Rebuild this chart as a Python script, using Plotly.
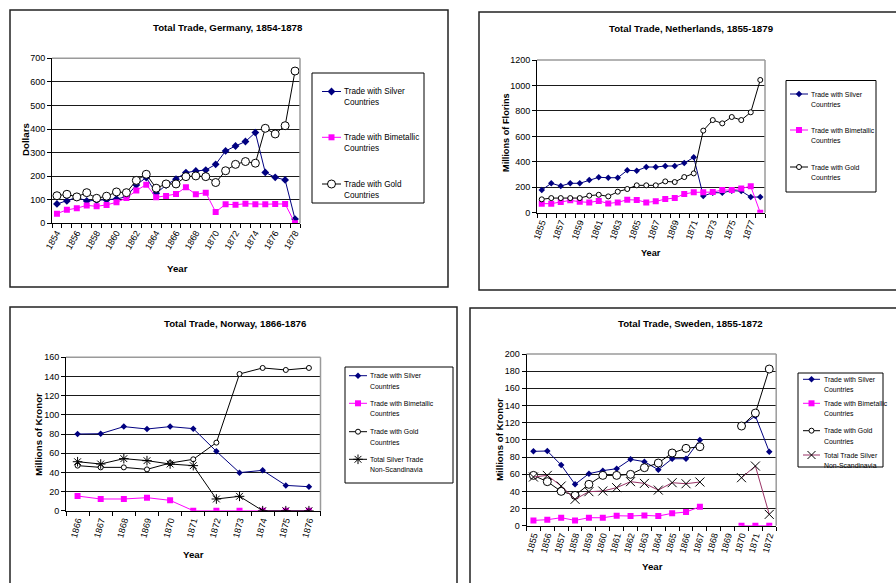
import plotly.graph_objects as go

W, H = 896, 583
FONT = "Liberation Sans Narrow, Liberation Sans, Arial, sans-serif"

# ---------------- Data ----------------
ger_years = list(range(1854, 1879))
ger_silver = [82, 95, 110, 95, 97, 99, 103, 113, 163, 194, 127, 162, 187, 215, 222, 226, 250, 307, 328, 347, 385, 216, 195, 184, 18]
ger_bimet = [41, 57, 64, 76, 72, 78, 89, 107, 139, 164, 110, 116, 124, 153, 123, 130, 48, 81, 79, 83, 81, 81, 82, 82, 0]
ger_gold = [117, 123, 112, 130, 106, 115, 133, 130, 182, 208, 149, 167, 167, 198, 201, 198, 173, 223, 250, 262, 255, 403, 379, 414, 646]
ger_ticks = list(range(1854, 1879, 2))

ned_years = list(range(1855, 1879))
ned_silver = [178, 231, 210, 231, 231, 257, 278, 275, 275, 333, 330, 359, 359, 367, 367, 390, 435, 131, 157, 157, 173, 170, 123, 123]
ned_bimet = [71, 71, 84, 97, 86, 81, 92, 73, 81, 102, 100, 81, 89, 107, 115, 147, 160, 160, 162, 178, 178, 191, 207, 0]
ned_gold = [105, 115, 115, 115, 115, 134, 141, 128, 165, 186, 215, 215, 215, 246, 241, 280, 309, 645, 728, 702, 752, 728, 789, 1043]
ned_ticks = list(range(1855, 1879, 2))

nor_years = list(range(1866, 1877))
nor_silver = [80, 80.3, 87.7, 85.2, 87.7, 85.6, 61.9, 39.7, 42.1, 26.4, 25]
nor_bimet = [15.3, 12.2, 12.2, 13.6, 10.8, 0, 0, 0, 0, 0, 0]
nor_gold = [47, 45.2, 45.2, 43.1, 49.7, 53.6, 71, 142.6, 148.9, 146.8, 148.9]
nor_nonscan = [51.1, 48.7, 54.3, 52.2, 48.7, 47, 12.2, 15, 0, 0, 0]

swe_years = list(range(1855, 1873))
swe_silver = [86.6, 87, 70.7, 48.2, 60.6, 64.1, 66.4, 77.3, 74.6, 65.2, 78, 78, 99.8, None, None, 116.5, 127.8, 86.2]
swe_bimet = [6.2, 7, 9.3, 6.2, 9.3, 9.3, 11.6, 11.3, 12, 11.3, 14.4, 15.9, 22.1, None, None, 0, 0, 0]
swe_gold = [58.6, 51.3, 40, 35.3, 48.2, 58.6, 58.6, 59.8, 67.6, 73, 84.7, 90.1, 92, None, None, 116.1, 131.2, 182.5]
swe_nonscan = [56.7, 58.6, 46.2, 30.7, 39.6, 40.4, 44.3, 51.3, 49.3, 41.5, 50.1, 48.9, 50.9, None, None, 55.9, 69.5, 13.2]

L_S = ["Trade with Silver", "Countries"]
L_B = ["Trade with Bimetallic", "Countries"]
L_G = ["Trade with Gold", "Countries"]
L_N_NOR = ["Total Silver Trade", "Non-Scandinavia"]
L_N_SWE = ["Total Trade Silver", "Non-Scandinavia"]

NAVY = "#000080"
MAG = "#FF00FF"
PLUM = "#993366"


def style(kind, msize=None):
    if kind == "silver":
        return dict(color=NAVY, width=1), dict(symbol="diamond", size=msize or 6, color=NAVY, line=dict(width=0))
    if kind == "bimet":
        return dict(color=MAG, width=1), dict(symbol="square", size=msize or 6, color=MAG, line=dict(width=0))
    if kind == "gold":
        return dict(color="black", width=1), dict(symbol="circle", size=msize or 8, color="white", line=dict(color="black", width=1))
    if kind == "star":
        return dict(color="black", width=1), dict(symbol="asterisk-open", size=msize or 8, color="black", line=dict(color="black", width=1))
    return dict(color=PLUM, width=1), dict(symbol="x-thin-open", size=msize or 9, color="black", line=dict(color="black", width=1))


fig = go.Figure()


def add(xs, ys, ax, kind, msize=None):
    sx = "" if ax == 1 else str(ax)
    line, marker = style(kind, msize)
    fig.add_trace(go.Scatter(x=xs, y=ys, mode="lines+markers", line=line, marker=marker,
                             xaxis=f"x{sx}", yaxis=f"y{sx}", showlegend=False,
                             connectgaps=False, hoverinfo="skip"))


add(ger_years, ger_silver, 1, "silver")
add(ger_years, ger_bimet, 1, "bimet")
add(ger_years, ger_gold, 1, "gold", 8)

add(ned_years, ned_silver, 2, "silver", 5)
add(ned_years, ned_bimet, 2, "bimet", 6)
add(ned_years, ned_gold, 2, "gold", 5)

add(nor_years, nor_silver, 3, "silver", 5)
add(nor_years, nor_bimet, 3, "bimet", 6)
add(nor_years, nor_gold, 3, "gold", 5)
add(nor_years, nor_nonscan, 3, "star", 8)

add(swe_years, swe_silver, 4, "silver", 5)
add(swe_years, swe_bimet, 4, "bimet", 6)
add(swe_years, swe_gold, 4, "gold", 8)
add(swe_years, swe_nonscan, 4, "x", 9)

# ---------------- Axes ----------------
panels = {
    1: (52, 300, 58.3, 223.3, [1853.5, 1878.5], [0, 700], 100, ger_ticks, -60),
    2: (537, 765, 60, 212.7, [1854.5, 1878.5], [0, 1200], 200, ned_ticks, -70),
    3: (66, 320.5, 357.3, 510.7, [1865.5, 1876.5], [0, 160], 20, nor_years, -75),
    4: (526.5, 776.2, 354, 525.7, [1854.5, 1872.5], [0, 200], 20, swe_years, -75),
}

layout = dict(
    width=W, height=H, margin=dict(l=0, r=0, t=0, b=0, autoexpand=False),
    paper_bgcolor="white", plot_bgcolor="rgba(0,0,0,0)",
    font=dict(family=FONT, size=9, color="black"),
    showlegend=False, shapes=[], annotations=[],
)

for ax, (x0, x1, yt, yb, xr, yr, dty, tv, ang) in panels.items():
    sx = "" if ax == 1 else str(ax)
    layout[f"xaxis{sx}"] = dict(
        domain=[x0 / W, x1 / W], range=xr, anchor=f"y{sx}",
        tickmode="array", tickvals=tv, ticktext=[str(v) for v in tv],
        tickangle=ang, ticks="", showgrid=False, zeroline=False,
        showline=True, linecolor="black", linewidth=1, fixedrange=True,
        tickfont=dict(size=9, family=FONT, color="black"),
        minor=dict(tickmode="linear", tick0=xr[0], dtick=1, ticks="outside",
                   ticklen=4, tickcolor="black", showgrid=False),
    )
    layout[f"yaxis{sx}"] = dict(
        domain=[1 - yb / H, 1 - yt / H], range=yr, anchor=f"x{sx}",
        dtick=dty, tick0=0, ticks="outside", ticklen=4, tickcolor="black",
        showgrid=True, gridcolor="#1a1a1a", gridwidth=1, zeroline=False,
        showline=True, linecolor="black", linewidth=1, fixedrange=True,
        tickfont=dict(size=9, family=FONT, color="black"),
    )
    layout["shapes"].append(dict(type="line", xref=f"x{sx} domain", yref=f"y{sx} domain",
                                 x0=1, x1=1, y0=0, y1=1, line=dict(color="#9a9a9a", width=1.5)))
    layout["shapes"].append(dict(type="line", xref=f"x{sx} domain", yref=f"y{sx} domain",
                                 x0=0, x1=1, y0=1, y1=1, line=dict(color="#9a9a9a", width=1.5)))

# overlay pixel-space axis for frames and legends
layout["xaxis5"] = dict(domain=[0, 1], range=[0, W], anchor="y5", visible=False, fixedrange=True)
layout["yaxis5"] = dict(domain=[0, 1], range=[H, 0], anchor="x5", visible=False, fixedrange=True)

frames = [(10, 10, 448, 287), (479, 12, 900, 290), (10, 307, 457, 590), (470, 308, 900, 590)]
for (fx0, fy0, fx1, fy1) in frames:
    layout["shapes"].append(dict(type="rect", xref="x5", yref="y5", x0=fx0, x1=fx1, y0=fy0, y1=fy1,
                                 line=dict(color="#222", width=1.5), layer="below"))


def ann(text, x, y, size=9.7, bold=True, angle=0, xanchor="center"):
    layout["annotations"].append(dict(
        text=f"<b>{text}</b>" if bold else text, x=x, y=y, xref="x5", yref="y5",
        showarrow=False, xanchor=xanchor, yanchor="middle", textangle=angle,
        font=dict(family=FONT, size=size, color="black")))


ann("Total Trade, Germany, 1854-1878", 228, 27)
ann("Total Trade, Netherlands, 1855-1879", 691, 28)
ann("Total Trade, Norway, 1866-1876", 235, 323)
ann("Total Trade, Sweden, 1855-1872", 690, 323)

ann("Dollars", 25, 140, 9.7, True, -90)
ann("Year", 177, 268, 9.7)
ann("Millions of Florins", 506, 133, 9.2, True, -90)
ann("Year", 651, 253, 9.2)
ann("Millions of Kronor", 38, 435, 9.7, True, -90)
ann("Year", 193, 554, 9.7)
ann("Millions of Kronor", 499, 440, 9.7, True, -90)
ann("Year", 652, 566, 9.7)

# manual legends
legends = [
    ((312, 73, 424, 203), 322, 341, 342, 8.2, 11,
     [(91.5, "silver", 6, L_S), (137.3, "bimet", 6, L_B), (184, "gold", 8, L_G)]),
    ((786, 80.5, 876, 192), 790, 808, 809, 6.9, 10.5,
     [(94, "silver", 5, L_S), (130, "bimet", 6, L_B), (167, "gold", 5, L_G)]),
    ((345, 367, 453, 483), 349, 367, 368, 6.9, 10.5,
     [(375.7, "silver", 5, L_S), (403.3, "bimet", 6, L_B), (431.7, "gold", 5, L_G), (459.3, "star", 8, L_N_NOR)]),
    ((798, 373, 883, 467), 803, 820, 821.5, 6.9, 10.5,
     [(379.3, "silver", 5, L_S), (403.3, "bimet", 6, L_B), (430.7, "gold", 5, L_G), (455, "x", 8, L_N_SWE)]),
]
for (box, lx0, lx1, tx, fs, gap, entries) in legends:
    layout["shapes"].append(dict(type="rect", xref="x5", yref="y5", x0=box[0], x1=box[2], y0=box[1], y1=box[3],
                                 line=dict(color="black", width=1), layer="below"))
    for (ey, kind, ms, labels) in entries:
        line, marker = style(kind, ms)
        layout["shapes"].append(dict(type="line", xref="x5", yref="y5", x0=lx0, x1=lx1, y0=ey, y1=ey,
                                     line=line, layer="below"))
        fig.add_trace(go.Scatter(x=[(lx0 + lx1) / 2], y=[ey], mode="markers", marker=marker,
                                 xaxis="x5", yaxis="y5", showlegend=False, hoverinfo="skip"))
        for i, lab in enumerate(labels):
            ann(lab, tx, ey + i * gap, fs, False, 0, "left")

fig.update_layout(**layout)
fig.write_html("out.html", config={"displayModeBar": False, "staticPlot": True},
               post_script="document.body.style.margin='0';document.body.style.padding='0';")
